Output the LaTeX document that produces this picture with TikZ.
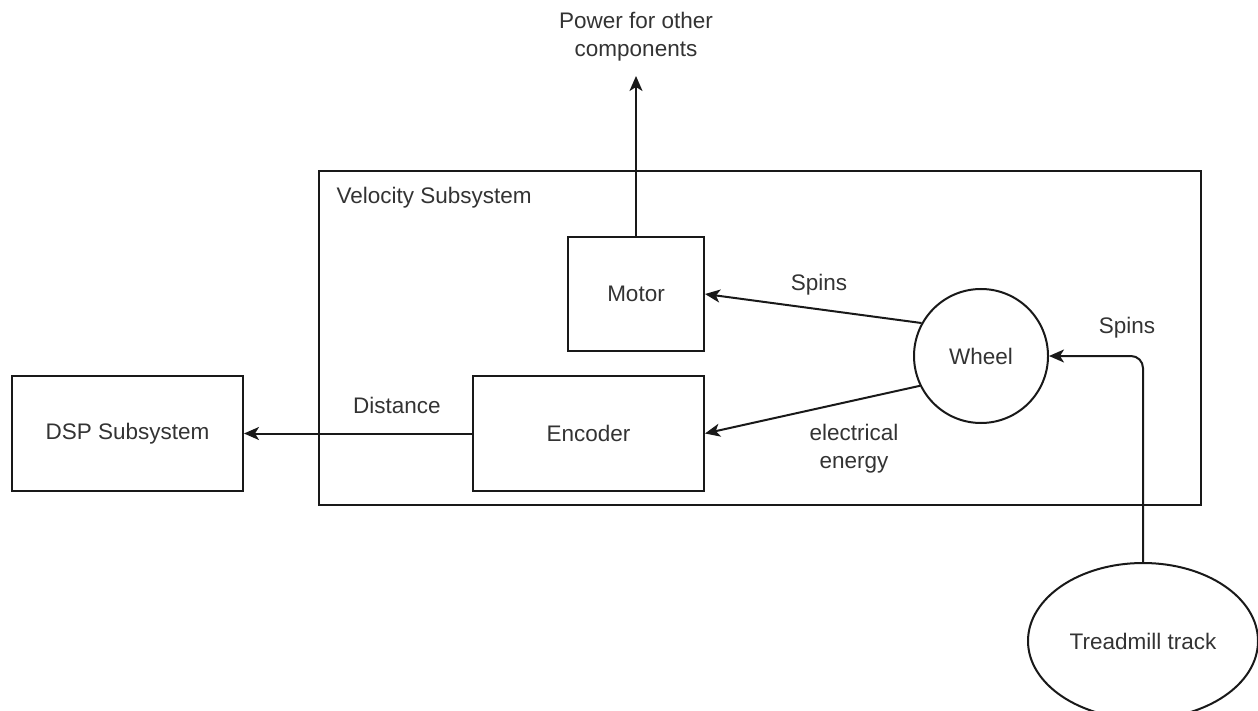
\documentclass[tikz,border=0pt]{standalone}
\usepackage{fontspec}
\setmainfont{Liberation Sans}
\usetikzlibrary{arrows.meta,shapes.geometric}

\begin{document}
\begin{tikzpicture}[x=1pt,y=-1pt,
    every node/.style={text=black!80,font=\fontsize{22.5}{28}\selectfont},
    block/.style={draw=black!90,line width=2pt,inner sep=0pt},
    flow/.style={-{Stealth[length=15pt,width=13pt,inset=4pt]},line width=2pt,draw=black!90}]

\useasboundingbox (0,0) rectangle (1258,711);

\node[block,minimum width=882,minimum height=334] (velocity) at (760,338) {};
\node[right] (velocitylabel) at (333,198) {Velocity Subsystem};

\node[block,minimum width=136,minimum height=114] (motor) at (636,294) {Motor};
\node[block,minimum width=231,minimum height=115] (encoder) at (588.5,433.5) {Encoder};
\node[block,minimum width=231,minimum height=115] (dsp) at (127.5,433.5) {DSP Subsystem};
\node[block,circle,minimum size=134] (wheel) at (981,356) {Wheel};
\node[block,ellipse,minimum width=230,minimum height=156] (track) at (1143,641) {Treadmill track};

\node[align=center] (power) at (636,37) {Power for other\\components};
\coordinate (powerend) at (636,76);

\draw[flow] (motor.north) -- (powerend);
\draw[flow] (wheel.151) -- (motor.east);
\node (wheelspins) at (819,285) {Spins};
\draw[flow] (wheel.206) -- (encoder.east);
\node[align=center] (energy) at (854,449) {electrical\\energy};
\draw[flow] (encoder.west) -- (dsp.east);
\node (distance) at (397,405) {Distance};
\draw[flow,rounded corners=12pt] (track.north) |- (wheel.east);
\node (trackspins) at (1127,328) {Spins};

\end{tikzpicture}
\end{document}
